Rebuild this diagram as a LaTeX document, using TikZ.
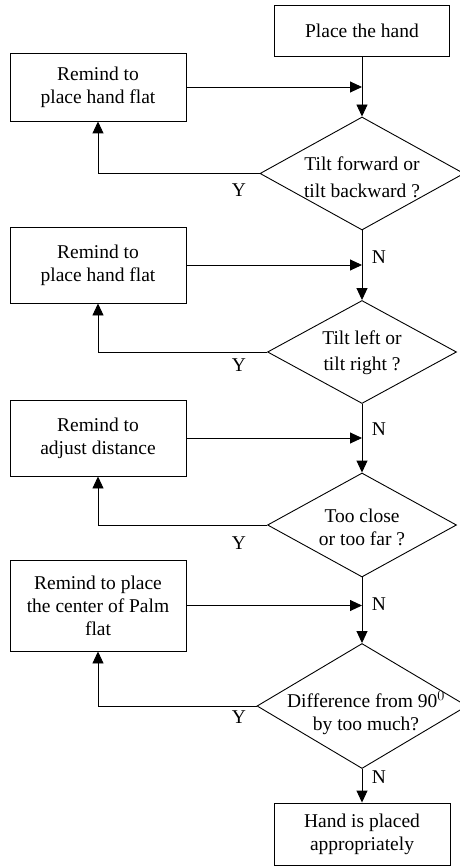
\documentclass[tikz,border=0pt]{standalone}
\usepackage{fontspec}
\setmainfont{Liberation Serif}
\usetikzlibrary{shapes.geometric,arrows.meta}

\tikzset{
  boite/.style={draw, line width=0.9pt, align=center, inner sep=2pt,
    font=\fontsize{19.5}{23}\selectfont},
  rappel/.style={boite, minimum width=176pt},
  losange/.style={draw, diamond, line width=0.9pt, inner sep=0pt},
  texte/.style={align=center, inner sep=0pt, font=\fontsize{19.5}{23}\selectfont}
}

\begin{document}
\begin{tikzpicture}[x=1pt,y=-1pt,>={Triangle[length=12pt,width=11pt]},line width=0.9pt]

    % Cadre de l'image
    \useasboundingbox (0,0) rectangle (459,866);

    % Les boites de la colonne de droite
    \node[boite, minimum width=175pt, minimum height=51pt] (debut) at (362,30.5) {Place the hand};
    \node[boite, minimum width=176pt, minimum height=62pt] (fin) at (362,834) {Hand is placed\\appropriately};

    % Les boites de rappel a gauche
    \node[rappel, minimum height=68pt] (rappel1) at (98,87) {Remind to\\place hand flat};
    \node[rappel, minimum height=76pt] (rappel2) at (98,265) {Remind to\\place hand flat};
    \node[rappel, minimum height=76pt] (rappel3) at (98,438) {Remind to\\adjust distance};
    \node[rappel, minimum height=91pt] (rappel4) at (98,605.5) {Remind to place\\the center of Palm\\flat};

    % Les losanges des tests
    \node[losange, minimum width=204pt, minimum height=113pt] (test1) at (362,173.5) {};
    \node[losange, minimum width=189pt, minimum height=103pt] (test2) at (362,352) {};
    \node[losange, minimum width=189pt, minimum height=104pt] (test3) at (362,525) {};
    \node[losange, minimum width=210pt, minimum height=125pt] (test4) at (362,706) {};

    % Les questions dans les losanges
    \node[texte] (q1) at (362,177) {Tilt forward or\\[4pt]tilt backward ?};
    \node[texte] (q2) at (362,353) {Tilt left or\\[3pt]tilt right ?};
    \node[texte] (q3) at (362,527) {Too close\\or too far ?};
    \node[texte] (q4) at (366,713) {Difference from 90$^{0}$\\by too much?};

    % Le chemin principal
    \draw[->] (debut.south) -- (test1.north);
    \draw[->] (test1.south) -- (test2.north);
    \draw[->] (test2.south) -- (test3.north);
    \draw[->] (test3.south) -- (test4.north);
    \draw[->] (test4.south) -- (fin.north);

    % Retour des rappels vers le chemin principal
    \draw[->] (rappel1.east) -- (rappel1.east -| test1.north);
    \draw[->] (rappel2.east) -- (rappel2.east -| test2.north);
    \draw[->] (rappel3.east) -- (rappel3.east -| test3.north);
    \draw[->] (rappel4.east) -- (rappel4.east -| test4.north);

    % Les branches Y vers les rappels
    \draw[->] (test1.west) -| (rappel1.south);
    \draw[->] (test2.west) -| (rappel2.south);
    \draw[->] (test3.west) -| (rappel3.south);
    \draw[->] (test4.west) -| (rappel4.south);

    % Les etiquettes Y et N
    \node[texte] (y1) at (239,190) {Y};
    \node[texte] (y2) at (239,365) {Y};
    \node[texte] (y3) at (239,543) {Y};
    \node[texte] (y4) at (239,717) {Y};
    \node[texte] (n1) at (379,257) {N};
    \node[texte] (n2) at (379,429) {N};
    \node[texte] (n3) at (379,604) {N};
    \node[texte] (n4) at (379,777) {N};
  \end{tikzpicture}
\end{document}
